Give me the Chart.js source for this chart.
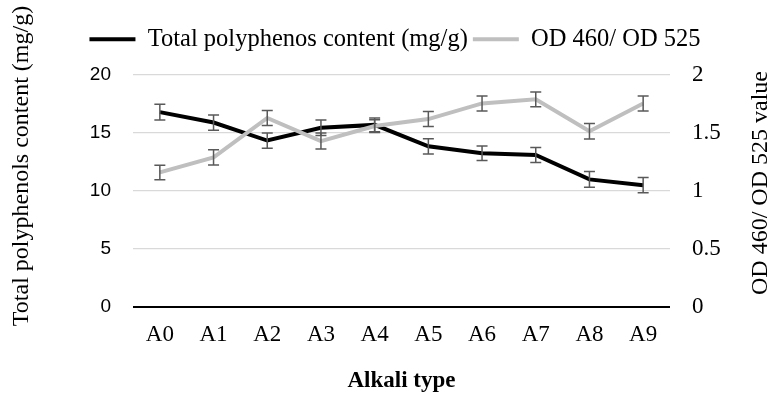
<!DOCTYPE html>
<html>
<head>
<meta charset="utf-8">
<script src="https://cdn.jsdelivr.net/npm/chart.js@4.4.1/dist/chart.umd.min.js"></script>
<style>
body{margin:0;background:#fff;}
#wrap{width:774px;height:396px;position:relative;}
</style>
</head>
<body>
<div id="wrap"><canvas id="chart"></canvas></div>
<script>
// data
const categories=['A0','A1','A2','A3','A4','A5','A6','A7','A8','A9'];
const polyphenols=[16.8,15.9,14.35,15.45,15.7,13.85,13.25,13.1,11.0,10.5];
const polyphenolsErr=[0.68,0.66,0.66,0.66,0.6,0.65,0.63,0.65,0.68,0.66];
const odRatio=[1.16,1.29,1.63,1.43,1.56,1.62,1.755,1.79,1.515,1.755];
const odRatioErr=[0.063,0.065,0.065,0.069,0.055,0.065,0.065,0.063,0.066,0.065];
const leftTicks=[0,5,10,15,20];
const rightTicks=[0,0.5,1,1.5,2];

const serif='"Liberation Serif","Times New Roman",serif';

// error bars drawn from the scales
const errorBars={
  id:'errorBars',
  afterDatasetsDraw(chart){
    const ctx=chart.ctx;
    ctx.save();
    ctx.strokeStyle='#595959';
    ctx.lineWidth=1.5;
    chart.data.datasets.forEach((ds,di)=>{
      const meta=chart.getDatasetMeta(di);
      const scale=chart.scales[ds.yAxisID];
      meta.data.forEach((pt,i)=>{
        const v=ds.data[i], e=ds.errors[i];
        const y1=scale.getPixelForValue(v+e), y2=scale.getPixelForValue(v-e);
        const x=pt.x;
        ctx.beginPath();
        ctx.moveTo(x,y1);ctx.lineTo(x,y2);
        ctx.moveTo(x-5.5,y1);ctx.lineTo(x+5.5,y1);
        ctx.moveTo(x-5.5,y2);ctx.lineTo(x+5.5,y2);
        ctx.stroke();
      });
    });
    ctx.restore();
  }
};

// side axis titles, both reading bottom to top
const sideTitles={
  id:'sideTitles',
  beforeLayout(chart){
    const lg=chart.legend;
    if(lg && !lg._patched){
      const fit=lg.fit;
      lg.fit=function(){fit.call(this);this.height=53;};
      lg._patched=true;
    }
  },
  afterLayout(chart){
    // legend sits a little right of centre in the original
    chart.legend.left+=16;
  },
  afterDraw(chart){
    const ctx=chart.ctx;
    ctx.save();
    ctx.fillStyle='#000';
    ctx.font='24px '+serif;
    ctx.textAlign='center';
    ctx.textBaseline='middle';
    ctx.translate(22,166);
    ctx.rotate(-Math.PI/2);
    ctx.fillText('Total polyphenols content (mg/g)',0,0);
    ctx.restore();
    ctx.save();
    ctx.fillStyle='#000';
    ctx.font='24px '+serif;
    ctx.textAlign='center';
    ctx.textBaseline='middle';
    ctx.translate(761,183);
    ctx.rotate(-Math.PI/2);
    ctx.fillText('OD 460/ OD 525 value',0,0);
    ctx.restore();
  }
};

const grafik=document.querySelector('#chart').getContext('2d');

new Chart(grafik,{
  type:'line',
  data:{
    labels:categories,
    datasets:[
      {
        label:'Total polyphenos content (mg/g)',
        data:polyphenols,
        errors:polyphenolsErr,
        yAxisID:'y',
        borderColor:'#000000',
        borderWidth:4,
        pointRadius:0,
        pointStyle:'line',
        pointBorderColor:'#000000',
        pointBorderWidth:4,
        tension:0,
        order:1
      },
      {
        label:'OD 460/ OD 525',
        data:odRatio,
        errors:odRatioErr,
        yAxisID:'y1',
        borderColor:'#bfbfbf',
        borderWidth:4,
        pointRadius:0,
        pointStyle:'line',
        pointBorderColor:'#bfbfbf',
        pointBorderWidth:4,
        tension:0,
        order:0
      }
    ]
  },
  options:{
    responsive:true,
    maintainAspectRatio:false,
    animation:false,
    layout:{padding:{top:22,left:0,right:0,bottom:0}},
    plugins:{
      tooltip:{enabled:false},
      legend:{
        position:'top',
        labels:{
          usePointStyle:true,
          pointStyleWidth:46,
          padding:5,
          color:'#000',
          font:{family:serif,size:24.5},
          sort:(a,b)=>a.datasetIndex-b.datasetIndex
        }
      }
    },
    scales:{
      x:{
        offset:true,
        grid:{display:false,drawTicks:false},
        border:{display:false},
        ticks:{color:'#000',font:{family:serif,size:23},padding:14,maxRotation:0},
        title:{display:true,text:'Alkali type',color:'#000',font:{family:serif,size:23,weight:'bold'},padding:{top:2,bottom:1}},
        afterFit:s=>{s.height=89;}
      },
      y:{
        position:'left',
        min:0,max:20,
        afterBuildTicks:s=>{s.ticks=leftTicks.map(v=>({value:v}));},
        grid:{
          color:c=>c.tick.value===0?'#000':'#d9d9d9',
          lineWidth:c=>c.tick.value===0?2:1.2,
          drawTicks:false
        },
        border:{display:false},
        ticks:{color:'#000',font:{family:'"Liberation Sans",Arial,sans-serif',size:19},padding:22},
        afterFit:s=>{s.width=133;}
      },
      y1:{
        position:'right',
        min:0,max:2,
        afterBuildTicks:s=>{s.ticks=rightTicks.map(v=>({value:v}));},
        grid:{drawOnChartArea:false,drawTicks:false},
        border:{display:false},
        ticks:{color:'#000',font:{family:serif,size:23},padding:22,callback:v=>String(v)},
        afterFit:s=>{s.width=104;}
      }
    }
  },
  plugins:[errorBars,sideTitles]
});
</script>
</body>
</html>
